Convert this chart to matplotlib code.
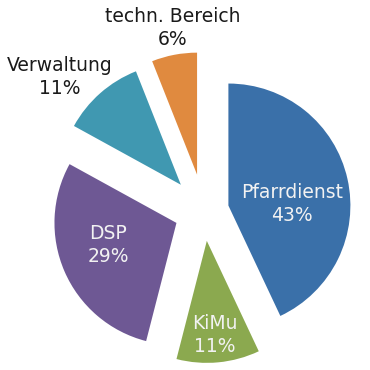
import matplotlib
matplotlib.use("Agg")
import matplotlib.pyplot as plt
import numpy as np

categories = ["Pfarrdienst", "KiMu", "DSP", "Verwaltung", "techn. Bereich"]
values = [43, 11, 29, 11, 6]
pct_labels = ["43%", "11%", "29%", "11%", "6%"]
colors = ["#3A70A9", "#8BA94F", "#6E5894", "#4098B1", "#E08A3F"]
explode = [25.0, 30.0, 30.0, 35.0, 37.0]

W = H = 370
fig = plt.figure(figsize=(3.7, 3.7), dpi=100)
ax = fig.add_axes([0, 0, 1, 1])

center = (204, H - 211)
radius = 122
ax.pie(values, colors=colors, explode=explode, startangle=90, counterclock=False,
       center=center, radius=radius, frame=True,
       wedgeprops=dict(linewidth=0))
ax.set_xlim(0, W)
ax.set_ylim(0, H)
ax.set_aspect("equal")
ax.axis("off")

label_pos = [(292, 204), (215, 335), (108, 245), (60, 77), (173, 28)]
label_col = ["#F2F2F2", "#F2F2F2", "#F2F2F2", "#1A1A1A", "#1A1A1A"]
for cat, p, (x, y), c in zip(categories, pct_labels, label_pos, label_col):
    ax.text(x, H - y, f"{cat}\n{p}", ha="center", va="center", fontsize=13.5,
            color=c, linespacing=1.3, family="DejaVu Sans")

fig.savefig("out.png", dpi=100)
